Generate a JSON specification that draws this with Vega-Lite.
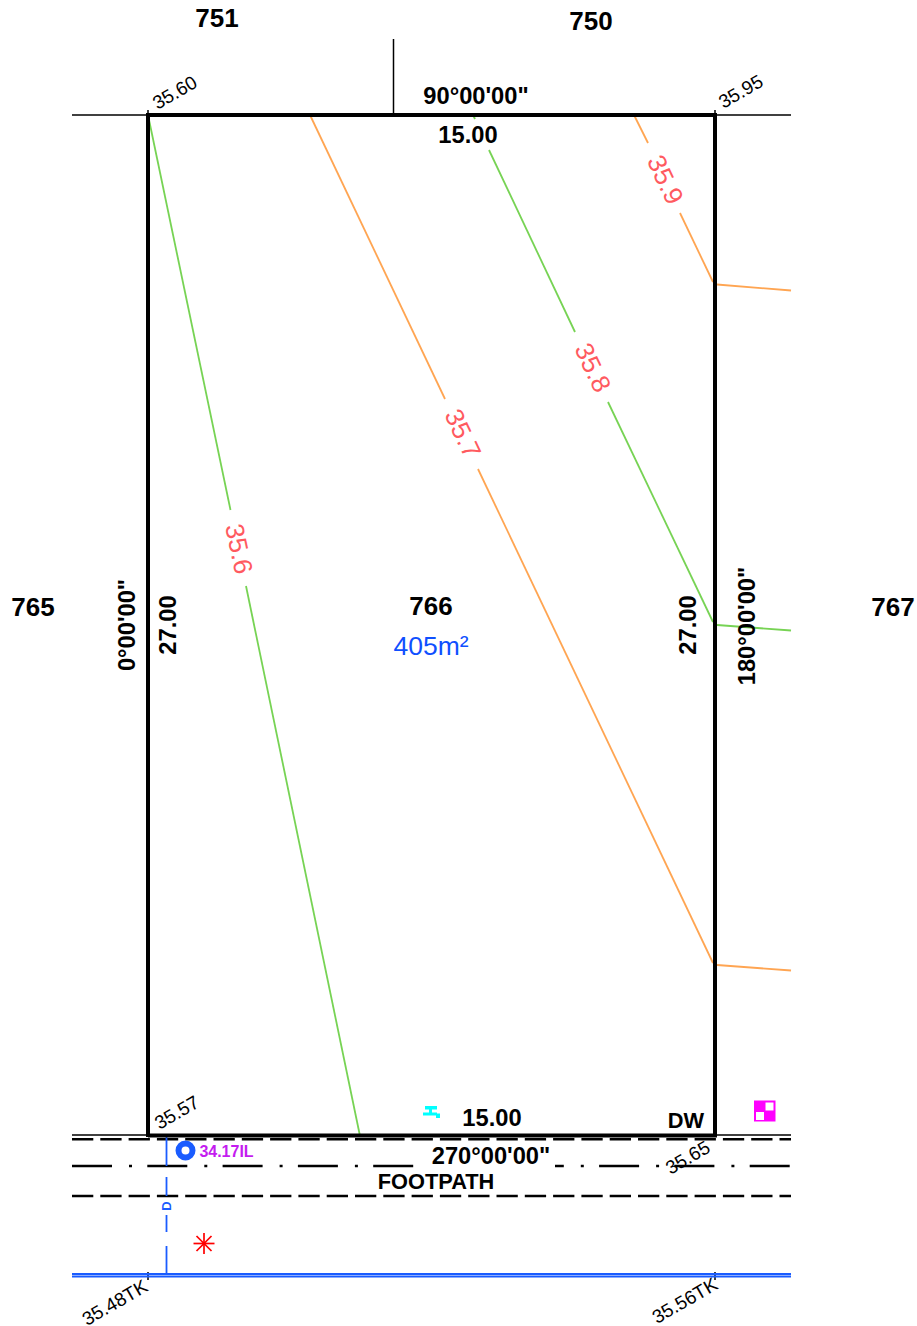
{
"$schema":"https://vega.github.io/schema/vega-lite/v6.json",
"width":917,"height":1326,
"autosize":{"type":"none"},
"padding":0,
"background":"white",
"config":{"view":{"stroke":null},"text":{"font":"Liberation Sans"}},
"datasets":{
"thick":[{"x":148,"y":115,"x2":715,"y2":115},{"x":715,"y":113,"x2":715,"y2":1137},{"x":148,"y":1135.5,"x2":717,"y2":1135.5},{"x":148,"y":113,"x2":148,"y2":1137}],
"thin":[{"x":72,"y":115,"x2":148,"y2":115},{"x":715,"y":115,"x2":791,"y2":115},{"x":393.5,"y":39,"x2":393.5,"y2":115},{"x":72,"y":1135,"x2":791,"y2":1135},{"x":148,"y":110,"x2":148,"y2":115},{"x":715,"y":110,"x2":715,"y2":115},{"x":148,"y":1272,"x2":148,"y2":1280},{"x":715,"y":1272,"x2":715,"y2":1280}],
"edge":[{"x":72,"y":1139.3,"x2":791,"y2":1139.3},{"x":72,"y":1196,"x2":791,"y2":1196}],
"centre":[{"x":72,"y":1166,"x2":791,"y2":1166}],
"mask":[{"x":414,"y":1146,"x2":555,"y2":1170}],
"green":[{"x":148,"y":115,"x2":230.5,"y2":510},{"x":246,"y":586,"x2":360,"y2":1136},{"x":473,"y":115,"x2":475,"y2":119},{"x":489,"y":150,"x2":575,"y2":332},{"x":608,"y":402,"x2":713,"y2":622},{"x":717,"y":625,"x2":791,"y2":630.5}],
"orange":[{"x":310,"y":115,"x2":445,"y2":399},{"x":478,"y":469,"x2":713,"y2":963},{"x":717,"y":965,"x2":791,"y2":970.5},{"x":634,"y":115,"x2":648,"y2":143},{"x":680,"y":213,"x2":713,"y2":282},{"x":717,"y":284.5,"x2":791,"y2":290.5}],
"blue":[{"x":166.5,"y":1137,"x2":166.5,"y2":1166},{"x":166.5,"y":1177,"x2":166.5,"y2":1196},{"x":166.5,"y":1215,"x2":166.5,"y2":1232},{"x":166.5,"y":1246,"x2":166.5,"y2":1274}],
"main":[{"x":72,"y":1274,"x2":791,"y2":1274},{"x":72,"y":1276.5,"x2":791,"y2":1276.5}],
"star":[{"x":204,"y":1233,"x2":204,"y2":1254},{"x":193.5,"y":1243.5,"x2":214.5,"y2":1243.5},{"x":196.5,"y":1236,"x2":211.5,"y2":1251},{"x":196.5,"y":1251,"x2":211.5,"y2":1236}],
"ring":[{"x":185.5,"y":1150.5}],
"cyan":[{"x":425,"y":1106,"x2":437,"y2":1109.5},{"x":429,"y":1109,"x2":432,"y2":1113},{"x":423,"y":1112.5,"x2":437,"y2":1115.5},{"x":436,"y":1113.5,"x2":440,"y2":1118}],
"magenta":[{"x":754,"y":1100.5,"x2":775.5,"y2":1121.5}],
"cells":[{"x":765.5,"y":1102.5,"x2":773.5,"y2":1110.5},{"x":756,"y":1112,"x2":764,"y2":1120}],
"bold24":[{"x":217,"y":19,"t":"751"},{"x":591,"y":22,"t":"750"},{"x":33,"y":608,"t":"765"},{"x":431,"y":607,"t":"766"},{"x":893,"y":608,"t":"767"}],
"bold22":[{"x":476,"y":97,"t":"90°00'00\""},{"x":468,"y":136,"t":"15.00"},{"x":492,"y":1119,"t":"15.00"},{"x":491,"y":1157,"t":"270°00'00\""}],
"bold22v":[{"x":128,"y":625,"t":"0°00'00\""},{"x":169,"y":625,"t":"27.00"},{"x":748,"y":626,"t":"180°00'00\""},{"x":689,"y":625,"t":"27.00"}],
"bold19":[{"x":436,"y":1182,"t":"FOOTPATH"},{"x":686,"y":1121,"t":"DW"}],
"area":[{"x":431,"y":647,"t":"405m²"}],
"il":[{"x":226.5,"y":1152,"t":"34.17IL"}],
"d":[{"x":167,"y":1206,"t":"D"}],
"lev":[{"x":175,"y":93,"t":"35.60"},{"x":741,"y":92,"t":"35.95"},{"x":177,"y":1113,"t":"35.57"},{"x":688,"y":1158,"t":"35.65"},{"x":115,"y":1303,"t":"35.48TK"},{"x":685,"y":1301,"t":"35.56TK"}],
"c77":[{"x":238,"y":549,"t":"35.6"}],
"c64":[{"x":462,"y":434,"t":"35.7"},{"x":592,"y":368,"t":"35.8"},{"x":664.5,"y":180,"t":"35.9"}]
},
"encoding":{
"x":{"field":"x","type":"quantitative","scale":{"domain":[0,917],"nice":false,"zero":false},"axis":null},
"y":{"field":"y","type":"quantitative","scale":{"domain":[0,1326],"nice":false,"zero":false,"reverse":true},"axis":null}
},
"layer":[
{"data":{"name":"green"},"mark":{"type":"rule","stroke":"#77d354","strokeWidth":1.8},"encoding":{"x2":{"field":"x2"},"y2":{"field":"y2"}}},
{"data":{"name":"orange"},"mark":{"type":"rule","stroke":"#ffa552","strokeWidth":1.8},"encoding":{"x2":{"field":"x2"},"y2":{"field":"y2"}}},
{"data":{"name":"thin"},"mark":{"type":"rule","stroke":"#000000","strokeWidth":1.5},"encoding":{"x2":{"field":"x2"},"y2":{"field":"y2"}}},
{"data":{"name":"edge"},"mark":{"type":"rule","stroke":"#000000","strokeWidth":2.5,"strokeDash":[21.3,7]},"encoding":{"x2":{"field":"x2"}}},
{"data":{"name":"centre"},"mark":{"type":"rule","stroke":"#000000","strokeWidth":2.5,"strokeDash":[40,17,3,15.3]},"encoding":{"x2":{"field":"x2"}}},
{"data":{"name":"mask"},"mark":{"type":"rect","fill":"#ffffff"},"encoding":{"x2":{"field":"x2"},"y2":{"field":"y2"}}},
{"data":{"name":"blue"},"mark":{"type":"rule","stroke":"#1a5cff","strokeWidth":1.8},"encoding":{"x2":{"field":"x2"},"y2":{"field":"y2"}}},
{"data":{"name":"main"},"mark":{"type":"rule","stroke":"#1a5cff","strokeWidth":1.8},"encoding":{"x2":{"field":"x2"}}},
{"data":{"name":"thick"},"mark":{"type":"rule","stroke":"#000000","strokeWidth":4},"encoding":{"x2":{"field":"x2"},"y2":{"field":"y2"}}},
{"data":{"name":"star"},"mark":{"type":"rule","stroke":"#ff0000","strokeWidth":1.7},"encoding":{"x2":{"field":"x2"},"y2":{"field":"y2"}}},
{"data":{"name":"ring"},"mark":{"type":"point","shape":"circle","filled":false,"stroke":"#1a5cff","strokeWidth":6,"size":196,"opacity":1}},
{"data":{"name":"cyan"},"mark":{"type":"rect","fill":"#00ffff"},"encoding":{"x2":{"field":"x2"},"y2":{"field":"y2"}}},
{"data":{"name":"magenta"},"mark":{"type":"rect","fill":"#ff00ff"},"encoding":{"x2":{"field":"x2"},"y2":{"field":"y2"}}},
{"data":{"name":"cells"},"mark":{"type":"rect","fill":"#ffffff"},"encoding":{"x2":{"field":"x2"},"y2":{"field":"y2"}}},
{"data":{"name":"bold24"},"mark":{"type":"text","font":"Liberation Sans","fontWeight":"bold","fontSize":26,"fill":"#000000","baseline":"middle","align":"center"},"encoding":{"text":{"field":"t"}}},
{"data":{"name":"bold22"},"mark":{"type":"text","font":"Liberation Sans","fontWeight":"bold","fontSize":23.7,"fill":"#000000","baseline":"middle","align":"center"},"encoding":{"text":{"field":"t"}}},
{"data":{"name":"bold22v"},"mark":{"type":"text","font":"Liberation Sans","fontWeight":"bold","fontSize":23.7,"fill":"#000000","baseline":"middle","align":"center","angle":270},"encoding":{"text":{"field":"t"}}},
{"data":{"name":"bold19"},"mark":{"type":"text","font":"Liberation Sans","fontWeight":"bold","fontSize":21.8,"fill":"#000000","baseline":"middle","align":"center"},"encoding":{"text":{"field":"t"}}},
{"data":{"name":"area"},"mark":{"type":"text","font":"Liberation Sans","fontSize":26.5,"fill":"#0f4fff","baseline":"middle","align":"center"},"encoding":{"text":{"field":"t"}}},
{"data":{"name":"il"},"mark":{"type":"text","font":"Liberation Sans","fontWeight":"bold","fontSize":16,"fill":"#c41cf0","baseline":"middle","align":"center"},"encoding":{"text":{"field":"t"}}},
{"data":{"name":"d"},"mark":{"type":"text","font":"Liberation Sans","fontWeight":"bold","fontSize":13,"fill":"#1a5cff","baseline":"middle","align":"center","angle":270},"encoding":{"text":{"field":"t"}}},
{"data":{"name":"lev"},"mark":{"type":"text","font":"Liberation Sans","fontSize":19,"fill":"#000000","baseline":"middle","align":"center","angle":330},"encoding":{"text":{"field":"t"}}},
{"data":{"name":"c77"},"mark":{"type":"text","font":"Liberation Sans","fontSize":26,"fill":"#ff5a5f","baseline":"middle","align":"center","angle":78},"encoding":{"text":{"field":"t"}}},
{"data":{"name":"c64"},"mark":{"type":"text","font":"Liberation Sans","fontSize":26,"fill":"#ff5a5f","baseline":"middle","align":"center","angle":64.5},"encoding":{"text":{"field":"t"}}}
]
}
